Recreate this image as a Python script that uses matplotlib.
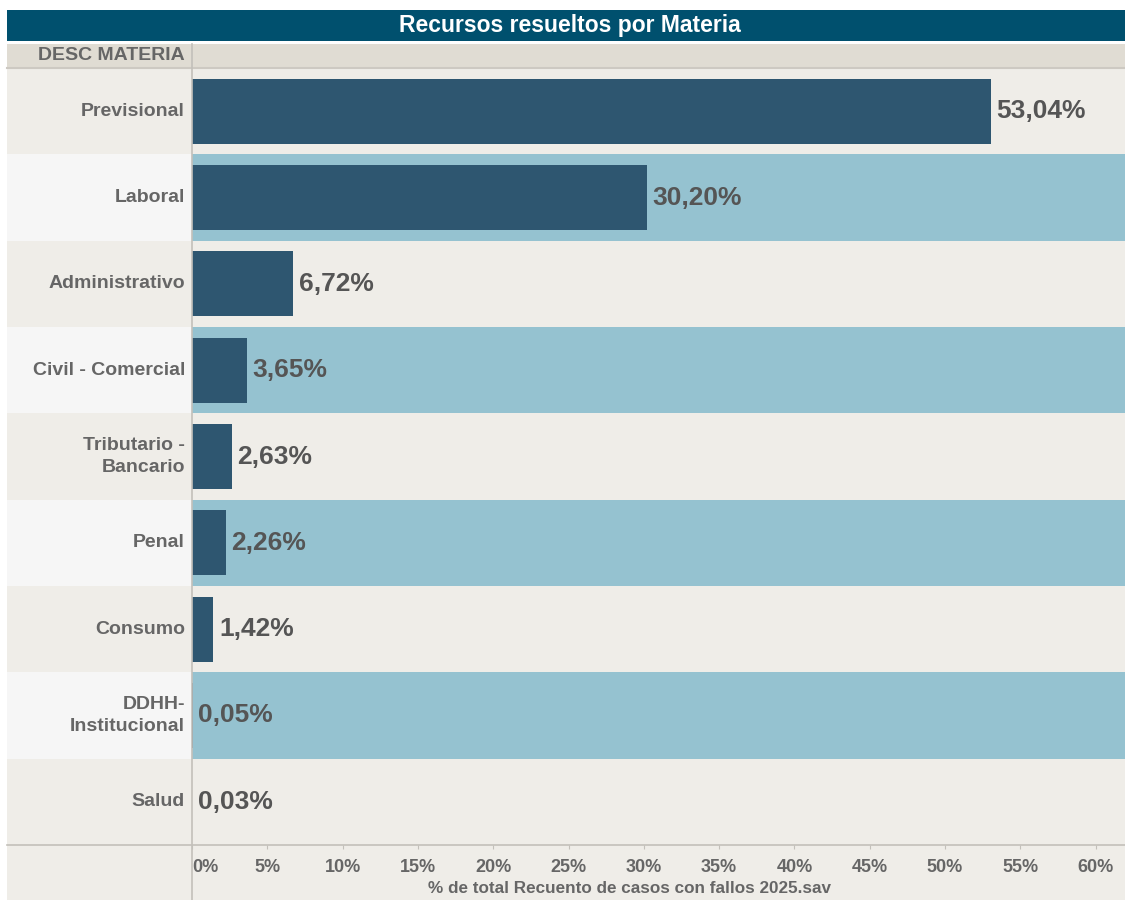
import matplotlib.pyplot as plt
from matplotlib.patches import Rectangle
from matplotlib.lines import Line2D

materias = ['Previsional', 'Laboral', 'Administrativo', 'Civil - Comercial',
            'Tributario -\nBancario', 'Penal', 'Consumo', 'DDHH-\nInstitucional', 'Salud']
pct = [53.04, 30.20, 6.72, 3.65, 2.63, 2.26, 1.42, 0.05, 0.03]
ticks = [0, 5, 10, 15, 20, 25, 30, 35, 40, 45, 50, 55, 60]

plt.rcParams['font.family'] = ['Liberation Sans', 'DejaVu Sans']
plt.rcParams['font.weight'] = 'bold'

W, H = 1125, 900
fig = plt.figure(figsize=(W / 100, H / 100), dpi=100)
fig.patch.set_facecolor('white')

def fx(px):
    return px / W

def fy(py):
    return 1 - py / H

light = '#efede8'
blue = '#95c2d0'
lab_alt = '#f6f6f6'
bar_col = '#2e5670'
grey_txt = '#666666'
line_col = '#c3c0ba'

# title band
fig.patches.append(Rectangle((fx(7), fy(41)), fx(W - 7), 31 / H, transform=fig.transFigure,
                             facecolor='#00506e', edgecolor='none', zorder=-5))
fig.text(fx(570), fy(25.5), 'Recursos resueltos por Materia', color='white', fontsize=16.5,
         fontweight='bold', ha='center', va='center')

# header row
fig.patches.append(Rectangle((fx(7), fy(68)), fx(W - 7), 24 / H, transform=fig.transFigure,
                             facecolor='#e0dcd3', edgecolor='none', zorder=-5))
fig.text(fx(185), fy(56), 'DESC MATERIA', color=grey_txt, fontsize=14,
         fontweight='bold', ha='right', va='center')

# bottom axis area
fig.patches.append(Rectangle((fx(7), 0), fx(W - 7), fy(845), transform=fig.transFigure,
                             facecolor=light, edgecolor='none', zorder=-5))

top, bottom = fy(68), fy(845)

# label column
lax = fig.add_axes([fx(7), bottom, fx(185), top - bottom])
n = len(materias)
for i, m in enumerate(materias):
    lax.axhspan(i - 0.5, i + 0.5, color=light if i % 2 == 0 else lab_alt, lw=0)
    lax.text(0.962, i, m, ha='right', va='center', fontsize=14, color=grey_txt,
             fontweight='bold', transform=lax.get_yaxis_transform(), linespacing=1.4)
lax.set_ylim(n - 0.5, -0.5)
lax.set_xlim(0, 1)
lax.axis('off')

# main plot
ax = fig.add_axes([fx(192), bottom, 1 - fx(192), top - bottom])
ax.patch.set_alpha(0)
for i in range(n):
    ax.axhspan(i - 0.5, i + 0.5, color=light if i % 2 == 0 else blue, lw=0, zorder=0)
ax.barh(range(n), pct, height=0.75, color=bar_col, zorder=2)
for i, v in enumerate(pct):
    ax.annotate(f'{v:.2f}%'.replace('.', ','), (v, i), xytext=(4, 0), textcoords='offset points',
                ha='left', va='center', fontsize=19, fontweight='bold', color='#555555')
ax.set_ylim(n - 0.5, -0.5)
ax.set_xlim(0, (W - 192) / 15.06)
ax.set_xticks(ticks)
ax.set_xticklabels([f'{t}%' for t in ticks], fontsize=13, color=grey_txt, fontweight='bold')
ax.get_xticklabels()[0].set_ha('left')
ax.set_yticks([])
ax.tick_params(axis='x', length=3, color=line_col, pad=7)
for s in ax.spines.values():
    s.set_visible(False)
ax.set_xlabel('% de total Recuento de casos con fallos 2025.sav', fontsize=12.3,
              color=grey_txt, fontweight='bold')
ax.xaxis.set_label_coords((fx(630) - fx(192)) / (1 - fx(192)), -0.056)
ax.xaxis.label.set_va('center')

# lines
fig.lines.append(Line2D([fx(7), 1], [bottom, bottom], transform=fig.transFigure,
                        color=line_col, lw=1.2, zorder=5))
fig.lines.append(Line2D([fx(7), 1], [top, top], transform=fig.transFigure,
                        color='#cdc9c2', lw=1.5, zorder=5))
fig.lines.append(Line2D([fx(192), fx(192)], [0, fy(44)], transform=fig.transFigure,
                        color=line_col, lw=1.2, zorder=5))

fig.savefig('out.png', dpi=100)
